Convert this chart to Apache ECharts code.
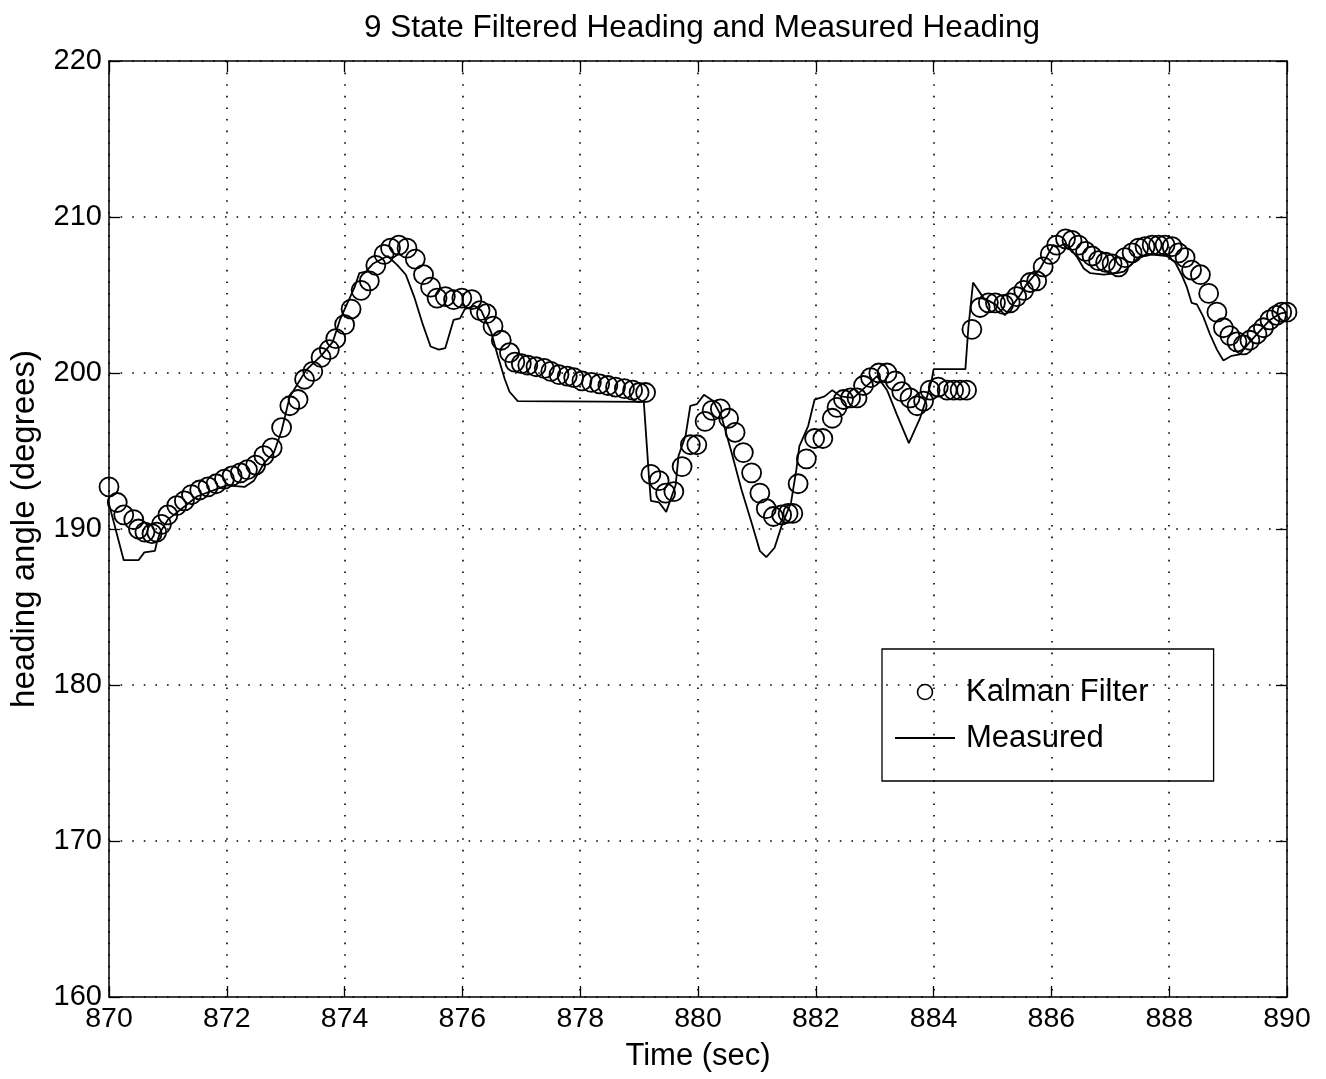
<!DOCTYPE html>
<html>
<head>
<meta charset="utf-8">
<script src="https://cdn.jsdelivr.net/npm/echarts@6/dist/echarts.min.js"></script>
<style>
html,body{margin:0;padding:0;background:#fff;}
#chart{width:1326px;height:1079px;}
</style>
</head>
<body>
<div id="chart"></div>
<script>
const titleText = '9 State Filtered Heading and Measured Heading';
const xAxisName = 'Time (sec)';
const yAxisName = 'heading angle (degrees)';
const seriesNames = ['Kalman Filter', 'Measured'];

const kalmanTime = [870.00,870.14,870.25,870.42,870.50,870.61,870.73,870.81,870.89,871.00,871.15,871.28,871.40,871.54,871.68,871.82,871.96,872.09,872.23,872.35,872.49,872.63,872.77,872.93,873.07,873.21,873.32,873.46,873.60,873.74,873.85,874.00,874.11,874.28,874.42,874.53,874.67,874.78,874.92,875.06,875.20,875.34,875.46,875.57,875.71,875.85,875.99,876.16,876.30,876.41,876.52,876.66,876.80,876.89,877.00,877.11,877.25,877.39,877.50,877.64,877.78,877.89,878.03,878.19,878.33,878.47,878.60,878.75,878.89,879.00,879.11,879.20,879.34,879.45,879.59,879.73,879.87,879.98,880.12,880.24,880.38,880.52,880.63,880.77,880.91,881.05,881.16,881.28,881.42,881.53,881.61,881.70,881.84,881.98,882.12,882.28,882.36,882.47,882.59,882.70,882.81,882.93,883.07,883.21,883.35,883.46,883.60,883.72,883.83,883.94,884.08,884.23,884.34,884.45,884.56,884.65,884.79,884.93,885.05,885.19,885.30,885.41,885.53,885.64,885.75,885.86,885.98,886.09,886.24,886.35,886.46,886.58,886.69,886.80,886.92,887.03,887.14,887.25,887.37,887.48,887.59,887.71,887.82,887.93,888.05,888.16,888.27,888.38,888.53,888.67,888.81,888.92,889.03,889.15,889.26,889.37,889.49,889.60,889.71,889.82,889.91,890.00];
const kalmanHeading = [192.7,191.7,190.9,190.6,190.0,189.8,189.7,189.8,190.3,190.9,191.5,191.8,192.2,192.5,192.7,192.9,193.2,193.4,193.6,193.8,194.1,194.7,195.2,196.5,197.9,198.3,199.6,200.1,201.0,201.5,202.2,203.1,204.1,205.3,205.9,206.9,207.6,208.0,208.2,208.0,207.3,206.3,205.5,204.8,204.9,204.7,204.8,204.7,204.0,203.8,203.0,202.1,201.3,200.7,200.6,200.5,200.4,200.3,200.1,199.9,199.8,199.7,199.5,199.4,199.3,199.2,199.1,199.0,198.9,198.75,198.75,193.5,193.1,192.3,192.4,194.0,195.4,195.4,196.9,197.6,197.7,197.1,196.2,194.9,193.6,192.3,191.3,190.8,190.9,191.0,191.0,192.9,194.5,195.8,195.8,197.1,197.8,198.3,198.4,198.4,199.2,199.7,200.0,200.0,199.5,198.8,198.4,197.9,198.2,198.9,199.1,198.9,198.9,198.9,198.9,202.8,204.2,204.5,204.5,204.4,204.5,204.9,205.3,205.8,205.9,206.8,207.6,208.2,208.6,208.5,208.2,207.8,207.5,207.2,207.1,207.0,206.8,207.4,207.7,208.0,208.1,208.2,208.2,208.2,208.1,207.7,207.4,206.6,206.3,205.1,203.9,202.9,202.4,202.0,201.8,202.1,202.5,202.9,203.4,203.7,203.9,203.9];

const measuredTime = [870.00,870.25,870.50,870.60,870.78,870.81,870.87,871.00,871.50,872.00,872.30,872.46,872.63,872.80,872.93,873.07,873.35,873.60,873.80,873.92,874.17,874.25,874.36,874.48,874.73,874.90,875.04,875.18,875.32,875.46,875.60,875.71,875.85,875.96,876.04,876.21,876.32,876.49,876.60,876.72,876.80,876.94,879.08,879.17,879.20,879.34,879.46,879.62,879.67,879.79,879.87,879.98,880.10,880.26,880.40,880.57,880.74,880.91,881.05,881.16,881.30,881.42,881.58,881.67,881.72,881.87,881.98,882.15,882.28,882.42,882.64,882.90,883.04,883.21,883.38,883.58,883.77,883.89,883.97,884.00,884.54,884.59,884.67,884.85,885.05,885.21,885.33,885.47,885.58,885.81,886.03,886.12,886.24,886.32,886.44,886.55,886.66,886.89,887.11,887.23,887.34,887.51,887.68,887.96,888.10,888.21,888.30,888.38,888.47,888.58,888.69,888.81,888.92,889.06,889.20,889.37,889.54,889.71,889.88,890.00];
const measuredHeading = [191.6,188.0,188.0,188.5,188.6,189.1,189.8,190.6,192.1,192.8,192.7,193.1,194.2,194.9,196.3,198.5,200.2,201.1,202.0,203.4,205.5,206.4,206.5,207.0,207.5,206.9,206.3,204.9,203.2,201.7,201.5,201.6,203.4,203.5,204.1,204.3,204.0,202.6,201.1,199.6,198.8,198.2,198.15,193.2,191.8,191.7,191.1,192.8,194.7,196.0,197.9,198.0,198.6,198.2,197.2,194.9,192.5,190.4,188.6,188.2,188.8,190.2,191.7,193.8,195.3,196.6,198.3,198.5,198.9,198.5,198.4,199.3,199.8,198.9,197.3,195.5,197.1,198.5,199.6,200.25,200.25,202.9,205.8,204.8,204.4,203.7,204.3,205.0,205.7,206.7,208.2,208.1,208.3,208.0,207.4,206.7,206.4,206.3,206.4,206.5,206.9,207.5,207.6,207.5,207.1,206.3,205.5,204.5,204.4,203.6,202.5,201.5,200.8,201.1,201.2,202.0,202.7,203.4,203.8,203.9];

const xMin = 870, xMax = 890, xStep = 2;
const yMin = 160, yMax = 220, yStep = 10;

const FONT = '"Liberation Sans", Arial, Helvetica, sans-serif';
const kalmanData = kalmanTime.map((t, i) => [t, kalmanHeading[i]]);
const measuredData = measuredTime.map((t, i) => [t, measuredHeading[i]]);

const gridLine = { show: true, lineStyle: { color: '#000', width: 1.6, type: [1.6, 10] } };
const frameLine = { show: true, onZero: false, lineStyle: { color: '#000', width: 1.5 } };
const ticksIn = { show: true, inside: true, length: 11, lineStyle: { color: '#000', width: 1.3 } };

const chart = echarts.init(document.getElementById('chart'), null, { renderer: 'canvas' });
chart.setOption({
  backgroundColor: '#fff',
  animation: false,
  textStyle: { fontFamily: FONT },
  title: {
    text: titleText, left: 697, top: 7, textAlign: 'center',
    textStyle: { fontFamily: FONT, fontSize: 31.5, fontWeight: 'normal', color: '#000' }
  },
  grid: { left: 107, right: 39, top: 61, bottom: 82, containLabel: false },
  legend: {
    orient: 'vertical', left: 882, top: 649,
    padding: [26, 65, 26, 12],
    itemWidth: 60, itemHeight: 15, itemGap: 12,
    backgroundColor: 'transparent', borderColor: '#000', borderWidth: 1.3,
    textStyle: { fontFamily: FONT, fontSize: 31, color: '#000', lineHeight: 34, padding: [0, 0, 0, 6] },
    data: [
      { name: seriesNames[0], icon: 'circle', itemStyle: { color: 'rgba(255,255,255,0)', borderColor: '#000', borderWidth: 1.6 } },
      { name: seriesNames[1], itemStyle: { color: 'rgba(0,0,0,0)', borderColor: 'rgba(0,0,0,0)', borderWidth: 0 } }
    ]
  },
  xAxis: [
    { type: 'value', min: xMin, max: xMax, interval: xStep, position: 'bottom',
      name: xAxisName, nameLocation: 'middle', nameGap: 44,
      nameTextStyle: { fontFamily: FONT, fontSize: 31, color: '#000' },
      axisLine: frameLine, axisTick: ticksIn, splitLine: gridLine,
      axisLabel: { fontFamily: FONT, fontSize: 28.5, color: '#000', margin: 8 } },
    { type: 'value', min: xMin, max: xMax, interval: xStep, position: 'top',
      axisLine: frameLine, axisTick: ticksIn, splitLine: { show: false }, axisLabel: { show: false } }
  ],
  yAxis: [
    { type: 'value', min: yMin, max: yMax, interval: yStep, position: 'left',
      name: yAxisName, nameLocation: 'middle', nameGap: 68, nameRotate: 90,
      nameTextStyle: { fontFamily: FONT, fontSize: 33, color: '#000' },
      axisLine: frameLine, axisTick: ticksIn, splitLine: gridLine,
      axisLabel: { fontFamily: FONT, fontSize: 29, color: '#000', margin: 7 } },
    { type: 'value', min: yMin, max: yMax, interval: yStep, position: 'right',
      axisLine: frameLine, axisTick: ticksIn, splitLine: { show: false }, axisLabel: { show: false } }
  ],
  series: [
    { name: seriesNames[0], type: 'scatter', data: kalmanData, symbol: 'circle', symbolSize: 19,
      itemStyle: { color: 'rgba(255,255,255,0)', borderColor: '#000', borderWidth: 1.8, opacity: 1 },
      z: 3 },
    { name: seriesNames[1], type: 'line', data: measuredData, symbol: 'none', showSymbol: false,
      lineStyle: { color: '#000', width: 1.8 }, itemStyle: { color: '#000' }, z: 2 }
  ]
});
</script>
</body>
</html>
